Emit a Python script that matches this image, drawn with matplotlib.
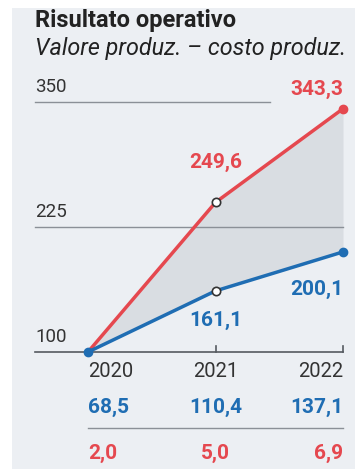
import matplotlib.pyplot as plt
from matplotlib.lines import Line2D

anni = [2020, 2021, 2022]
valore = [100, 249.6, 343.3]      # linea rossa
costo = [100, 161.1, 200.1]       # linea blu
riga_blu = [68.5, 110.4, 137.1]
riga_rossa = [2.0, 5.0, 6.9]
griglia = [100, 225, 350]

ROSSO = '#e5484f'
BLU = '#1f6db3'
SFONDO = '#eceff3'
GRIGIO = '#8b9097'
TESTO = '#333333'

plt.rcParams['font.family'] = ['Roboto', 'DejaVu Sans']

W, H = 355, 469
fig = plt.figure(figsize=(W / 100, H / 100), dpi=100)
fig.patch.set_facecolor('white')

# pannello grigio di sfondo (margine bianco a sinistra e in alto)
fig.patches.append(plt.Rectangle((12 / W, 0), 1, (H - 8) / H, transform=fig.transFigure,
                                 facecolor=SFONDO, edgecolor='none', zorder=-5))

def fx(px):
    return px / W

def fy(py):
    return 1 - py / H

fig.text(fx(35), fy(20), 'Risultato operativo', fontsize=17, fontweight='bold',
         color='#222222', va='center')
fig.text(fx(35), fy(49), 'Valore produz. – costo produz.', fontsize=16.8, style='italic',
         color='#222222', va='center')

# asse del grafico: 2020 -> 88px, 2022 -> 343px, 100 -> 352px, 350 -> 102px
px_anno = (343 - 88) / 2
x0 = 2020 - (88 - 35) / px_anno
ax = fig.add_axes([fx(35), fy(352), fx(343 - 35), (352 - 102) / H])
ax.set_xlim(x0, 2022)
ax.set_ylim(100, 350)
ax.axis('off')

# griglia
ax.plot([x0, 2020 + (270 - 88) / px_anno], [350, 350], color=GRIGIO, lw=1, clip_on=False)
ax.plot([x0, 2022], [225, 225], color=GRIGIO, lw=1, clip_on=False)
ax.plot([x0, 2022], [100, 100], color='#555a60', lw=1.2, clip_on=False)
for a in anni[1:]:
    ax.plot([a, a], [100, 106], color='#555a60', lw=1.2, clip_on=False)
for g in griglia:
    ax.annotate(str(g), (x0, g), xytext=(0, 4), textcoords='offset points',
                fontsize=13.5, color=TESTO, ha='left', va='bottom')

ax.fill_between(anni, costo, valore, color='#d9dde2', lw=0, zorder=1)
ax.plot(anni, valore, color=ROSSO, lw=2.5, zorder=3, clip_on=False, solid_capstyle='round')
ax.plot(anni, costo, color=BLU, lw=2.5, zorder=3, clip_on=False, solid_capstyle='round')

# punti: pieni agli estremi, vuoti nel 2021
ax.plot([anni[0]], [costo[0]], 'o', color=BLU, ms=6, zorder=4, clip_on=False)
ax.plot([anni[2]], [valore[2]], 'o', color=ROSSO, ms=6, zorder=4, clip_on=False)
ax.plot([anni[2]], [costo[2]], 'o', color=BLU, ms=6, zorder=4, clip_on=False)
ax.plot([anni[1]], [valore[1]], 'o', mfc='white', mec='#333333', mew=1.2, ms=6, zorder=4)
ax.plot([anni[1]], [costo[1]], 'o', mfc='white', mec='#333333', mew=1.2, ms=6, zorder=4)

def fmt(v):
    return f'{v:.1f}'.replace('.', ',')

lab = dict(fontsize=15, fontweight='bold', textcoords='offset points')
ax.annotate(fmt(valore[1]), (anni[1], valore[1]), xytext=(0, 29), ha='center', va='center',
            color=ROSSO, **lab)
ax.annotate(fmt(valore[2]), (anni[2], valore[2]), xytext=(0, 14), ha='right', va='center',
            color=ROSSO, **lab)
ax.annotate(fmt(costo[1]), (anni[1], costo[1]), xytext=(0, -21), ha='center', va='center',
            color=BLU, **lab)
ax.annotate(fmt(costo[2]), (anni[2], costo[2]), xytext=(0, -27), ha='right', va='center',
            color=BLU, **lab)

# righe sotto l'asse
allin = ['left', 'center', 'right']
for i, a in enumerate(anni):
    ax.annotate(str(a), (a, 100), xytext=(0, -14), textcoords='offset points',
                ha=allin[i], va='center', fontsize=14.5, color=TESTO)
    ax.annotate(fmt(riga_blu[i]), (a, 100), xytext=(0, -40), ha=allin[i], va='center',
                color=BLU, **lab)
    ax.annotate(fmt(riga_rossa[i]), (a, 100), xytext=(0, -73), ha=allin[i], va='center',
                color=ROSSO, **lab)
ax.add_line(Line2D([fx(88), fx(343)], [fy(428), fy(428)], transform=fig.transFigure,
                   color=GRIGIO, lw=1, clip_on=False))

fig.savefig('out.png', dpi=100, facecolor=fig.get_facecolor())
